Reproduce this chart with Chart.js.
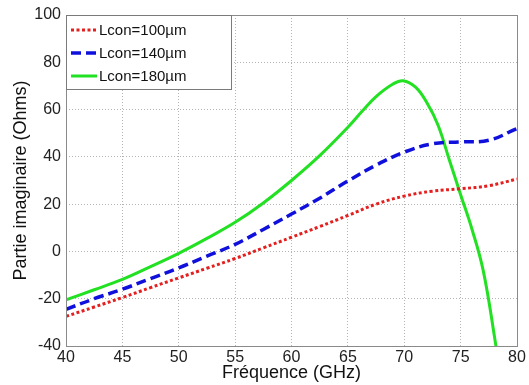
<!DOCTYPE html>
<html>
<head>
<meta charset="utf-8">
<script src="https://cdn.jsdelivr.net/npm/chart.js@4/dist/chart.umd.min.js"></script>
<style>
  html, body { margin: 0; padding: 0; background: #fff; }
  #wrap { width: 529px; height: 385px; }
</style>
</head>
<body>
<div id="wrap"><canvas id="c" width="529" height="385"></canvas></div>
<script>
// values (GHz -> Ohms)
const freq100 = [40, 42.5, 45, 47.5, 50, 52.5, 55, 57.5, 60, 62.5, 65, 67.5, 70, 72.5, 75, 77.5, 80];
const lcon100 = [-27.5, -23.5, -19.5, -15.3, -11.2, -7.1, -3, 1.5, 6, 10.5, 15.2, 20, 23.4, 25.5, 26.5, 27.8, 30.6];

const freq140 = [40, 42.5, 45, 47.5, 50, 52.5, 55, 57.5, 60, 62.5, 65, 67.5, 70, 72.5, 75, 77.5, 80];
const lcon140 = [-24.5, -20, -16, -11.5, -7, -2, 3, 9.3, 15.8, 22.5, 29.8, 36.5, 42, 45.5, 46.3, 47, 52];

const freq180 = [40, 42.5, 45, 47.5, 50, 52.5, 55, 57.5, 60, 62.5, 65, 66.3, 67.5, 69, 69.9, 71, 72, 73, 74, 75, 76, 77, 78, 79];
const lcon180 = [-20.5, -16.2, -11.8, -6.4, -0.8, 5.5, 12.3, 20.5, 30, 40.5, 52.5, 59.5, 65.5, 70.8, 72.2, 69.5, 63, 53.4, 38.7, 24, 9.5, -8, -36, -68];

const labels = ['Lcon=100µm', 'Lcon=140µm', 'Lcon=180µm'];
const xTicks = [40, 45, 50, 55, 60, 65, 70, 75, 80];
const yTicks = [-40, -20, 0, 20, 40, 60, 80, 100];

const FONT = '"Liberation Sans", Arial, Helvetica, sans-serif';
const toPts = (xs, ys) => xs.map((x, i) => ({x: x, y: ys[i]}));

// box around plot + legend inside top-left
const boxAndLegend = {
    id: 'boxAndLegend',
    afterDatasetsDraw(chart) {
        const {ctx, chartArea: a} = chart;
        ctx.save();
        ctx.strokeStyle = '#8a8a8a';
        ctx.lineWidth = 1;
        ctx.setLineDash([]);
        ctx.strokeRect(a.left + 0.5, a.top + 0.5, a.right - a.left, a.bottom - a.top);

        // legend
        const lx = a.left, ly = a.top, lw = 165, lh = 74;
        ctx.fillStyle = '#fff';
        ctx.fillRect(lx, ly, lw, lh);
        ctx.strokeStyle = '#7a7a7a';
        ctx.strokeRect(lx + 0.5, ly + 0.5, lw, lh);
        ctx.font = '15px ' + FONT;
        ctx.textBaseline = 'middle';
        chart.data.datasets.forEach((ds, i) => {
            const y = ly + 15 + i * 23;
            ctx.strokeStyle = ds.borderColor;
            ctx.lineWidth = ds.borderWidth;
            ctx.setLineDash(ds.borderDash || []);
            ctx.beginPath();
            ctx.moveTo(lx + 5, y);
            ctx.lineTo(lx + 31, y);
            ctx.stroke();
            ctx.setLineDash([]);
            ctx.fillStyle = '#111';
            ctx.fillText(ds.label, lx + 33, y + 1);
        });
        ctx.restore();
    }
};

new Chart(document.getElementById('c'), {
    type: 'line',
    data: {
        datasets: [
            {label: labels[0], data: toPts(freq100, lcon100), borderColor: '#e3201f', borderWidth: 3, borderDash: [3, 2.5], pointRadius: 0, tension: 0.4},
            {label: labels[1], data: toPts(freq140, lcon140), borderColor: '#1010dd', borderWidth: 3.5, borderDash: [10, 5], pointRadius: 0, tension: 0.4},
            {label: labels[2], data: toPts(freq180, lcon180), borderColor: '#22e022', borderWidth: 3, pointRadius: 0, tension: 0.4}
        ]
    },
    options: {
        responsive: false,
        animation: false,
        layout: {padding: {top: 15, right: 12, left: 0, bottom: 0}},
        plugins: {legend: {display: false}, tooltip: {enabled: false}},
        scales: {
            x: {
                type: 'linear', min: 40, max: 80,
                afterBuildTicks: s => { s.ticks = xTicks.map(v => ({value: v})); },
                afterFit: s => { s.height = 39; },
                grid: {color: '#b4b4b4', drawTicks: false},
                border: {display: false, dash: [1, 2]},
                ticks: {color: '#222', font: {family: FONT, size: 16}, padding: 2, maxRotation: 0},
                title: {display: true, text: 'Fréquence (GHz)', color: '#111', font: {family: FONT, size: 18}, padding: {top: 0, bottom: 1}}
            },
            y: {
                min: -40, max: 100,
                afterBuildTicks: s => { s.ticks = yTicks.map(v => ({value: v})); },
                afterFit: s => { s.width = 66; },
                grid: {color: '#b4b4b4', drawTicks: false},
                border: {display: false, dash: [1, 2]},
                ticks: {color: '#222', font: {family: FONT, size: 16}, padding: 5},
                title: {display: true, text: 'Partie imaginaire (Ohms)', color: '#111', font: {family: FONT, size: 18}, padding: {top: 10, bottom: 0}}
            }
        }
    },
    plugins: [boxAndLegend]
});
</script>
</body>
</html>
